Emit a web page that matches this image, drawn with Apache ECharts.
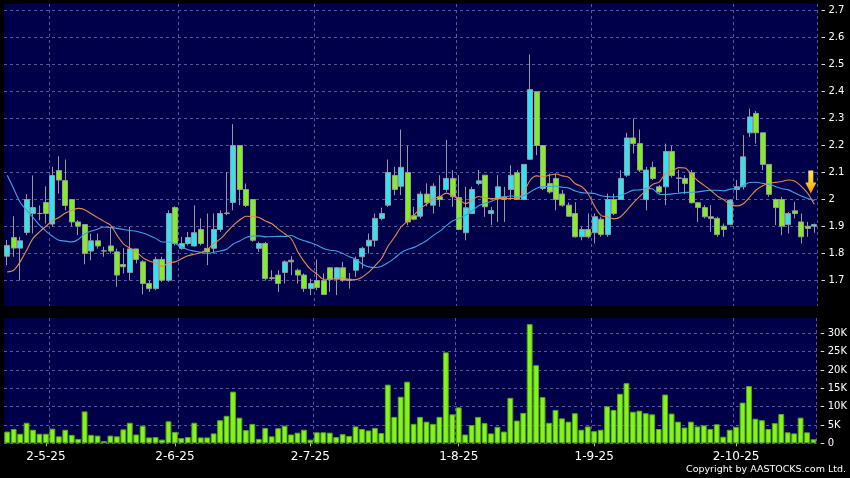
<!DOCTYPE html>
<html><head><meta charset="utf-8">
<script src="https://cdn.jsdelivr.net/npm/echarts@6/dist/echarts.min.js"></script>
<style>html,body{margin:0;padding:0;background:#000;}#c{width:850px;height:478px;}</style>
</head><body><div id="c"></div>
<script>
// ---- data ----
const opens = [1.79,1.859,1.82,1.878,1.948,1.948,1.989,1.909,2.107,2.070,2.0,1.917,1.907,1.809,1.847,1.81,1.828,1.806,1.759,1.730,
1.817,1.769,1.689,1.670,1.778,1.701,1.970,1.819,1.837,1.828,1.889,1.819,1.819,1.889,1.948,1.989,2.2,2.037,2.0,1.819,
1.837,1.71,1.720,1.730,1.769,1.738,1.720,1.670,1.70,1.70,1.747,1.705,1.747,1.705,1.738,1.788,1.828,1.849,1.930,1.979,
2.089,2.049,2.1,1.94,1.938,2.02,1.979,2.01,2.037,2.078,2.007,1.877,1.948,2.059,2.09,1.948,2.004,2.01,2.037,2.099,
2.0,2.149,2.399,2.2,2.059,2.078,2.02,1.979,1.948,1.862,1.889,1.877,1.927,1.870,2.0,2.0,2.09,2.228,2.207,2.0,
2.119,2.047,2.047,2.178,2.08,2.078,2.099,1.988,1.97,1.936,1.93,1.901,1.907,2.037,2.047,2.247,2.319,2.247,2.13,2.0,
2.0,1.907,1.958,1.917,1.901,1.901];
const closes = [1.83,1.82,1.847,2.0,1.97,1.948,1.948,2.089,2.072,1.978,1.917,1.901,1.80,1.847,1.828,1.809,1.809,1.720,1.751,1.817,
1.778,1.689,1.670,1.778,1.701,1.948,1.837,1.837,1.859,1.877,1.837,1.806,1.889,1.948,1.950,2.2,2.037,1.978,1.849,1.837,
1.707,1.707,1.689,1.769,1.775,1.720,1.670,1.689,1.674,1.648,1.705,1.747,1.701,1.70,1.778,1.819,1.849,1.930,1.948,2.1,
2.037,2.119,1.917,1.927,2.02,1.988,2.049,2.0,2.078,2.01,1.889,1.969,2.037,2.069,1.973,1.959,2.047,2.0,2.09,2.0,
2.13,2.407,2.2,2.041,2.028,2.0,1.979,1.938,1.862,1.889,1.862,1.936,1.870,2.0,1.948,2.078,2.228,2.207,2.109,2.109,
2.078,2.028,2.178,2.089,2.078,2.059,1.988,1.97,1.936,1.93,1.87,1.889,1.998,2.047,2.158,2.306,2.247,2.13,2.019,1.97,
1.901,1.948,1.948,1.862,1.893,1.907];
const highs = [1.85,1.938,1.862,2.02,2.089,1.978,2.049,2.121,2.160,2.148,2.0,1.924,1.907,1.874,1.874,1.825,1.899,1.818,1.82,1.899,
1.817,1.775,1.70,1.788,1.788,1.96,1.975,1.862,1.88,1.978,1.93,1.948,1.948,1.96,2.102,2.279,2.2,2.059,2.0,1.843,
1.843,1.738,1.738,1.775,1.790,1.744,1.726,1.707,1.778,1.726,1.75,1.75,1.769,1.728,1.788,1.825,1.874,1.948,1.970,2.148,
2.121,2.259,2.2,1.973,2.03,2.06,2.06,2.09,2.22,2.109,2.09,2.047,2.047,2.109,2.09,1.973,2.09,2.047,2.127,2.109,
2.13,2.537,2.4,2.2,2.096,2.096,2.035,1.989,1.99,1.899,1.948,1.948,1.936,2.022,2.022,2.109,2.247,2.3,2.259,2.121,
2.14,2.053,2.207,2.199,2.11,2.09,2.109,1.991,1.979,1.979,1.936,1.911,2.0,2.072,2.238,2.337,2.328,2.247,2.13,2.004,
2.01,1.954,1.991,1.948,1.917,1.911];
const lows = [1.757,1.788,1.70,1.868,1.874,1.923,1.911,1.899,2.022,1.960,1.901,1.868,1.76,1.775,1.818,1.788,1.80,1.677,1.726,1.70,
1.763,1.649,1.658,1.664,1.695,1.695,1.83,1.814,1.83,1.825,1.83,1.757,1.80,1.88,1.942,1.96,1.979,1.972,1.843,1.806,
1.70,1.70,1.658,1.689,1.720,1.689,1.658,1.646,1.664,1.646,1.658,1.646,1.695,1.670,1.714,1.744,1.80,1.825,1.923,1.972,
2.016,2.016,1.905,1.923,1.93,1.975,1.948,1.973,2.028,1.973,1.886,1.849,1.948,2.053,1.936,1.905,1.917,1.917,2.0,2.0,
2.0,2.146,2.164,2.035,2.022,1.96,1.973,1.936,1.859,1.849,1.856,1.837,1.862,1.862,1.942,1.998,2.084,2.17,2.102,1.96,
2.072,2.022,1.979,2.081,2.025,2.02,1.985,1.917,1.93,1.88,1.862,1.862,1.905,1.998,2.037,2.232,2.207,2.109,2.01,1.905,
1.868,1.874,1.93,1.837,1.862,1.877];
// volume in thousands of shares
const volumesK = [3.2,3.9,2.6,5.6,3.7,2.6,2.6,4.0,1.9,3.7,2.3,1.2,8.7,2.3,2.1,0.6,2.1,1.9,3.8,5.6,
2.4,4.8,1.6,1.7,1.0,6.0,3.1,1.4,1.7,5.6,1.6,1.6,2.7,6.3,7.5,14.1,7.0,3.6,5.3,1.2,
4.2,1.9,4.1,4.8,2.4,2.9,3.7,1.0,3.0,3.0,2.9,1.7,2.5,2.0,4.6,3.9,3.5,4.2,2.8,16.0,
7.2,12.7,16.8,5.3,7.2,5.9,5.3,7.2,24.8,7.9,9.8,2.4,5.0,7.2,5.5,2.7,4.5,3.2,12.4,6.2,
8.3,32.5,21.3,12.6,5.6,9.1,6.8,5.9,8.2,3.7,4.6,3.3,3.7,10.1,9.1,13.5,16.4,8.6,8.9,8.2,
7.9,3.9,13.3,8.1,5.9,4.3,5.9,4.6,4.9,3.9,5.2,1.8,3.7,4.5,11.1,15.6,6.7,6.3,3.9,5.5,
8.0,3.0,2.7,7.0,3.0,1.1];
// moving-average values at the left edge (their windows start before the first shown day)
const ma10Head = [1.732,1.738,1.769,1.812,1.856,1.88,1.901,1.921,1.933];
const ma20Head = [2.09,2.04,1.99,1.96,1.933,1.905,1.883,1.864,1.849,1.846,1.843,1.852,1.872,1.883,1.89,1.898,1.896,1.893,1.889];
const xTickLabels = ['2-5-25','2-6-25','2-7-25','1-8-25','1-9-25','2-10-25'];
const xTickIndex = [6,26,47,70,91,113];
const xGridIndex = [7,27,48,70,91,113];
const priceTicks = [1.7,1.8,1.9,2.0,2.1,2.2,2.3,2.4,2.5,2.6,2.7];
const volumeTicks = [0,5,10,15,20,25,30];
const arrowAt = [124, 2.065];

// ---- derived ----
const cats = closes.map((_, i) => String(i));
const candles = opens.map((o, i) => [o, closes[i], lows[i], highs[i]]);
function movingAvg(n, head) {
  return closes.map((c, i) => {
    if (i < head.length) return head[i];
    let s = 0; for (let k = i - n + 1; k <= i; k++) s += closes[k];
    return +(s / n).toFixed(4);
  });
}
const ma10 = movingAvg(10, ma10Head);
const ma20 = movingAvg(20, ma20Head);

const FONT = 'DejaVu Sans';
const NAVY = '#00004a';
const GRIDC = '#56569a';
const splitStyle = {color: GRIDC, type: [3, 3], width: 1};
const isLabel = (i) => xTickIndex.indexOf(i) >= 0;
const isGrid = (i) => xGridIndex.indexOf(i) >= 0;

const chart = echarts.init(document.getElementById('c'), null, {renderer: 'canvas'});
chart.setOption({
  backgroundColor: '#000',
  animation: false,
  grid: [
    {left: 4, right: 32.5, top: 4, height: 302, show: true, backgroundColor: NAVY, borderWidth: 0},
    {left: 4, right: 32.5, top: 318, height: 125.3, show: true, backgroundColor: NAVY, borderWidth: 0}
  ],
  xAxis: [
    {type: 'category', gridIndex: 0, data: cats, boundaryGap: true,
     axisLine: {show: false}, axisTick: {show: false}, axisLabel: {show: false},
     splitLine: {show: true, interval: isGrid, lineStyle: splitStyle}},
    {type: 'category', gridIndex: 1, data: cats, boundaryGap: true, offset: 3,
     axisLine: {show: false},
     axisTick: {show: true, alignWithLabel: true, interval: isLabel, length: 3, lineStyle: {color: '#bbb'}},
     axisLabel: {show: true, interval: isLabel, color: '#fff', fontSize: 12, fontFamily: FONT, margin: 5,
       formatter: (v, idx) => { const k = xTickIndex.indexOf(+v); return k >= 0 ? xTickLabels[k] : ''; }},
     splitLine: {show: true, interval: isGrid, lineStyle: splitStyle}}
  ],
  yAxis: [
    {type: 'value', gridIndex: 0, position: 'right', offset: 4, scale: true,
     min: 2.0 - 106.5 / 270, max: 2.0 + 195.5 / 270,
     axisLine: {show: false},
     axisTick: {show: true, length: 3.5, customValues: priceTicks, lineStyle: {color: '#ddd'}},
     axisLabel: {color: '#fff', fontSize: 10, fontFamily: FONT, margin: 7, customValues: priceTicks,
       formatter: (v) => String(+v.toFixed(1))},
     splitLine: {show: true, lineStyle: splitStyle}},
    {type: 'value', gridIndex: 1, position: 'right', offset: 4,
     min: 0, max: 34.17,
     axisLine: {show: false},
     axisTick: {show: true, length: 3.5, customValues: volumeTicks, lineStyle: {color: '#ddd'}},
     axisLabel: {color: '#fff', fontSize: 10, fontFamily: FONT, margin: 7, customValues: volumeTicks,
       formatter: (v) => v === 0 ? '0' : (v + 'K')},
     splitLine: {show: true, lineStyle: splitStyle}}
  ],
  series: [
    {type: 'candlestick', xAxisIndex: 0, yAxisIndex: 0, data: candles, barWidth: 5.5, z: 2,
     itemStyle: {color: '#30e2f2', color0: '#80f020', borderColor: '#9a9a9a', borderColor0: '#9a9a9a', borderWidth: 1}},
    {type: 'line', xAxisIndex: 0, yAxisIndex: 0, data: ma20, symbol: 'none', smooth: 0.3, z: 3,
     lineStyle: {color: '#3da3e6', width: 1.1}},
    {type: 'line', xAxisIndex: 0, yAxisIndex: 0, data: ma10, symbol: 'none', smooth: 0.3, z: 3,
     lineStyle: {color: '#e58a4e', width: 1.1},
     markPoint: {silent: true, z: 5, label: {show: false},
       data: [{coord: arrowAt, symbol: 'path://M3,0 L8,0 L8,12 L11,12 L5.5,23 L0,12 L3,12 Z',
         symbolSize: [11, 23], symbolOffset: [3, 0],
         itemStyle: {color: new echarts.graphic.LinearGradient(0, 0, 0, 1, [
           {offset: 0, color: '#ffe75a'}, {offset: 0.6, color: '#ffc21c'}, {offset: 1, color: '#f09400'}])}}]}},
    {type: 'bar', xAxisIndex: 1, yAxisIndex: 1, data: volumesK, barWidth: '90%',
     itemStyle: {color: '#82f51c', borderColor: '#5aa41a', borderWidth: 1}}
  ],
  graphic: [
    {type: 'text', right: 4, top: 465,
     style: {text: 'Copyright by AASTOCKS.com Ltd.', fill: '#fff', fontSize: 9.5, fontFamily: FONT}}
  ]
});
</script></body></html>
